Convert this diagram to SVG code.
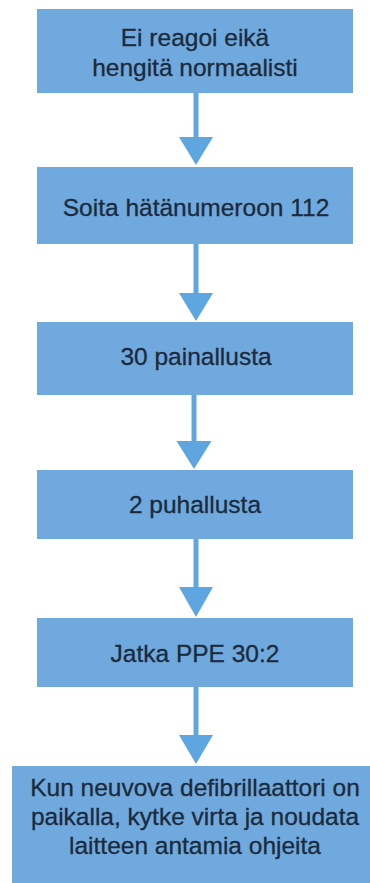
<svg xmlns="http://www.w3.org/2000/svg" width="370" height="883" viewBox="0 0 370 883">
<style>
.box{fill:#6fa9dd;}
.t{font-family:"Liberation Sans",Arial,sans-serif;font-size:24.5px;fill:#1c2a3b;stroke:#1c2a3b;stroke-width:0.3;text-anchor:middle;}
.ln{stroke:#5ea6e0;stroke-width:5;fill:none;}
.hd{fill:#5ea6e0;}
</style>
<rect width="370" height="883" fill="#ffffff"/>
<g id="connectors">
<line class="ln" x1="196" y1="93" x2="196" y2="138"/>
<polygon class="hd" points="179,137 213,137 196,165"/>
<line class="ln" x1="196" y1="244" x2="196" y2="294"/>
<polygon class="hd" points="179,293 213,293 196,321"/>
<line class="ln" x1="194" y1="395" x2="194" y2="442"/>
<polygon class="hd" points="176.5,441 211.5,441 194,469"/>
<line class="ln" x1="196" y1="539" x2="196" y2="588"/>
<polygon class="hd" points="179,587 213,587 196,617"/>
<line class="ln" x1="196" y1="687" x2="196" y2="736"/>
<polygon class="hd" points="179,735 213,735 196,764"/>
</g>
<g id="n1">
<rect class="box" x="37" y="9" width="316" height="84"/>
<text class="t" x="195" y="46">Ei reagoi eikä</text>
<text class="t" x="195" y="76">hengitä normaalisti</text>
</g>
<g id="n2">
<rect class="box" x="37" y="167" width="316" height="77"/>
<text class="t" x="196" y="216">Soita hätänumeroon 112</text>
</g>
<g id="n3">
<rect class="box" x="37" y="322" width="316" height="73"/>
<text class="t" x="196" y="365">30 painallusta</text>
</g>
<g id="n4">
<rect class="box" x="37" y="470" width="316" height="69"/>
<text class="t" x="195" y="513">2 puhallusta</text>
</g>
<g id="n5">
<rect class="box" x="37" y="618" width="316" height="69"/>
<text class="t" x="195" y="662">Jatka PPE 30:2</text>
</g>
<g id="n6">
<rect class="box" x="12" y="766" width="358" height="117"/>
<text class="t" x="195" y="796">Kun neuvova defibrillaattori on</text>
<text class="t" x="195" y="825">paikalla, kytke virta ja noudata</text>
<text class="t" x="195" y="854">laitteen antamia ohjeita</text>
</g>
</svg>
